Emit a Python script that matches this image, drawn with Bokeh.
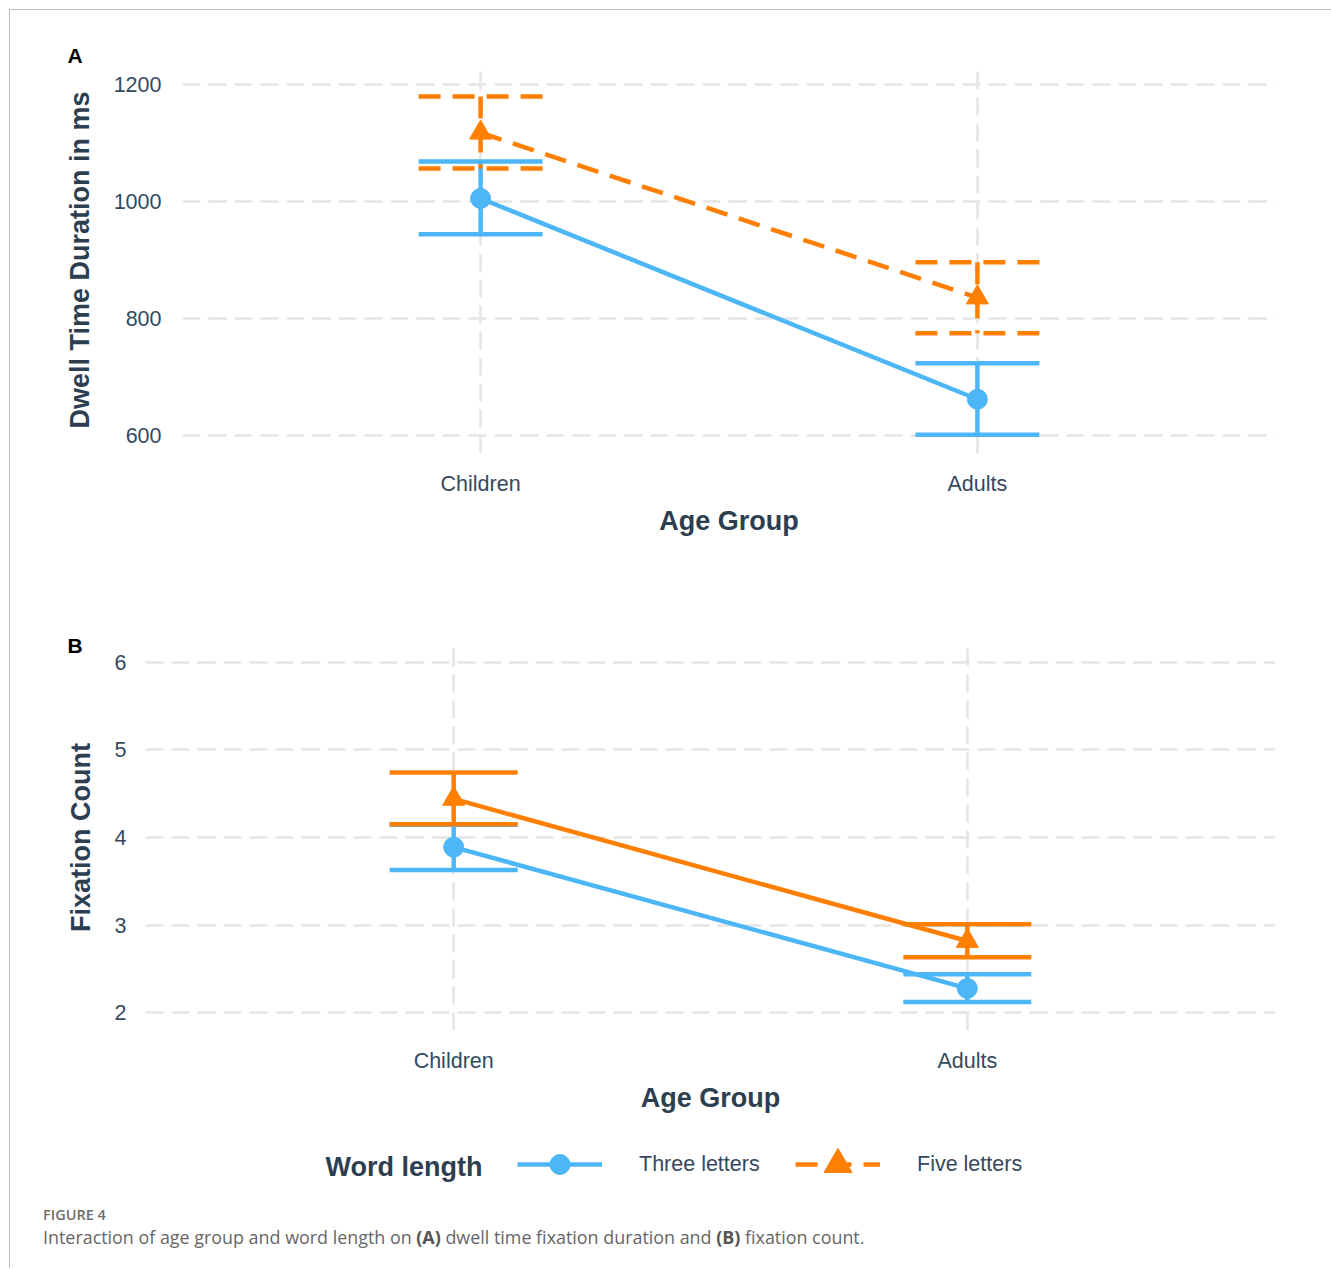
from bokeh.plotting import figure
from bokeh.models import (ColumnDataSource, FactorRange, Range1d, Whisker, TeeHead,
                          FixedTicker, Legend, LegendItem, Label, Div)
from bokeh.layouts import column
from bokeh.embed import file_html
from bokeh.resources import INLINE

# ---------------- data ----------------
age_groups = ["Children", "Adults"]
series_names = ["Three letters", "Five letters"]

# Panel A: dwell time duration (ms)
dwell_three = [1005, 662.5]
dwell_three_lo = [944, 602]
dwell_three_hi = [1068, 724]
dwell_five = [1117, 836]
dwell_five_lo = [1056, 775]
dwell_five_hi = [1179, 896]
dwell_ticks = [600, 800, 1000, 1200]

# Panel B: fixation count
fix_three = [3.89, 2.28]
fix_three_lo = [3.63, 2.125]
fix_three_hi = [4.145, 2.44]
fix_five = [4.44, 2.82]
fix_five_lo = [4.15, 2.635]
fix_five_hi = [4.74, 3.01]
fix_ticks = [2, 3, 4, 5, 6]

# ---------------- style ----------------
BLUE = "#4CB6F6"
ORANGE = "#FF7F00"
TEXT = "#2C3E50"
TICK = "#34495E"
GRID = "#E5E5E5"
FONT = "Liberation Sans"
LW = 4.5
DASH = "22 12"
W = 1321


def no_align(p):
    if "frame_align" in p.properties():
        p.frame_align = False


def make_panel(height, bl, br, bt, bb, yr, ticks, ylabel, letter, loff, lstand,
               series, cap, ystand, ylab_stand, xstand, xlab_stand):
    p = figure(width=W, height=height,
               x_range=FactorRange(factors=age_groups, range_padding=0.1,
                                   range_padding_units="absolute"),
               y_range=Range1d(*yr),
               output_backend="svg", toolbar_location=None,
               min_border_left=bl, min_border_right=br,
               min_border_top=bt, min_border_bottom=bb)
    no_align(p)
    p.outline_line_color = None
    p.background_fill_color = "white"
    p.border_fill_color = "white"
    for g in (p.xgrid, p.ygrid):
        g.grid_line_color = GRID
        g.grid_line_width = 2.5
        g.grid_line_dash = "18 8"
    p.yaxis.ticker = FixedTicker(ticks=ticks)
    for ax in (p.xaxis, p.yaxis):
        ax.axis_line_color = None
        ax.major_tick_line_color = None
        ax.minor_tick_line_color = None
        ax.major_tick_out = 0
        ax.major_tick_in = 0
        ax.major_label_text_font = FONT
        ax.major_label_text_font_size = "21.5px"
        ax.major_label_text_color = TICK
        ax.axis_label_text_font = FONT
        ax.axis_label_text_font_size = "27px"
        ax.axis_label_text_font_style = "bold"
        ax.axis_label_text_color = TEXT
    p.yaxis.major_label_standoff = ystand
    p.yaxis.axis_label_standoff = ylab_stand
    p.xaxis.major_label_standoff = xstand
    p.xaxis.axis_label_standoff = xlab_stand
    p.yaxis.axis_label = ylabel
    p.xaxis.axis_label = "Age Group"

    for (mean, lo, hi, color, marker, msize, dash) in series:
        src = ColumnDataSource(dict(x=age_groups, y=mean, lo=lo, hi=hi))
        w = Whisker(source=src, base="x", lower="hi", upper="lo", dimension="height",
                    line_color=color, line_width=LW, line_dash=dash,
                    upper_head=TeeHead(size=cap, line_color=color, line_width=LW, line_dash=dash),
                    lower_head=TeeHead(size=cap, line_color=color, line_width=LW, line_dash=dash))
        p.add_layout(w)
    for (mean, lo, hi, color, marker, msize, dash) in series:
        src = ColumnDataSource(dict(x=age_groups, y=mean))
        p.line("x", "y", source=src, line_color=color, line_width=LW, line_dash=dash)
        p.scatter("x", "y", source=src, marker=marker, size=msize, color=color)

    p.title.text = letter
    p.title.align = "left"
    p.title.offset = loff
    p.title.text_font = FONT
    p.title.text_font_size = "21px"
    p.title.text_font_style = "bold"
    p.title.text_color = "black"
    try:
        p.title.standoff = lstand
    except Exception:
        p.title.standoff = 0
    return p


pA = make_panel(580, 172, 56, 56, 137, (570, 1230), dwell_ticks,
                "Dwell Time Duration in ms", "A", -115, 0,
                [(dwell_three, dwell_three_lo, dwell_three_hi, BLUE, "circle", 20, "solid"),
                 (dwell_five, dwell_five_lo, dwell_five_hi, ORANGE, "triangle", 22, DASH)],
                124, 21, 16, 18, 7)

pB = make_panel(535, 135, 56, 54, 95, (1.8, 6.2), fix_ticks,
                "Fixation Count", "B", -78, -25,
                [(fix_three, fix_three_lo, fix_three_hi, BLUE, "circle", 20, "solid"),
                 (fix_five, fix_five_lo, fix_five_hi, ORANGE, "triangle", 22, "solid")],
                128, 19, 16, 18, 7)

# ---------------- legend ----------------
lg = figure(width=W, height=75, x_range=FactorRange(factors=age_groups), y_range=Range1d(0, 1),
            output_backend="svg", toolbar_location=None, min_border=0,
            min_border_left=0, min_border_right=0, min_border_top=0, min_border_bottom=0,
            x_axis_location=None, y_axis_location=None)
no_align(lg)
lg.grid.visible = False
lg.outline_line_color = None
src3 = ColumnDataSource(dict(x=age_groups, y=fix_three))
src5 = ColumnDataSource(dict(x=age_groups, y=fix_five))
r1 = lg.line("x", "y", source=src3, line_color=BLUE, line_width=LW, visible=False)
r1m = lg.scatter("x", "y", source=src3, marker="circle", color=BLUE, visible=False)
r2 = lg.line("x", "y", source=src5, line_color=ORANGE, line_width=LW, line_dash=DASH, visible=False)
r2m = lg.scatter("x", "y", source=src5, marker="triangle", color=ORANGE, visible=False)

common = dict(orientation="horizontal", glyph_width=85, label_standoff=37,
              label_text_font=FONT, label_text_font_size="21.5px", label_text_color=TICK,
              border_line_color=None, background_fill_alpha=0, padding=0, margin=0,
              inactive_fill_alpha=0)
leg1 = Legend(items=[LegendItem(label=series_names[0], renderers=[r1, r1m])],
              location=(507, 11), glyph_height=50, **common)
leg2 = Legend(items=[LegendItem(label=series_names[1], renderers=[r2, r2m])],
              location=(785, 1), glyph_height=70, **common)
lg.add_layout(leg1)
lg.add_layout(leg2)
lg.add_layout(Label(x=315, y=34, x_units="screen", y_units="screen", text="Word length",
                    text_font=FONT, text_font_style="bold", text_font_size="27px",
                    text_color=TEXT, text_baseline="alphabetic"))

# ---------------- caption ----------------
caption = Div(width=W, height=58, text=(
    '<div style="padding:0 0 0 28px; font-family:\'Open Sans\', sans-serif;">'
    '<div style="font-size:14.5px; line-height:20px; font-weight:600; color:#6E6E6E;">FIGURE 4</div>'
    '<div style="font-size:17.9px; line-height:24px; color:#666666; white-space:nowrap;">'
    'Interaction of age group and word length on <b style="color:#555">(A)</b> dwell time fixation '
    'duration and <b style="color:#555">(B)</b> fixation count.</div></div>'))

layout = column(pA, pB, lg, caption,
                styles={"border-top": "1px solid #BDBDBD", "border-left": "1px solid #BDBDBD",
                        "margin-left": "9px", "margin-top": "9px"})

open("out.html", "w").write(file_html(layout, INLINE))
